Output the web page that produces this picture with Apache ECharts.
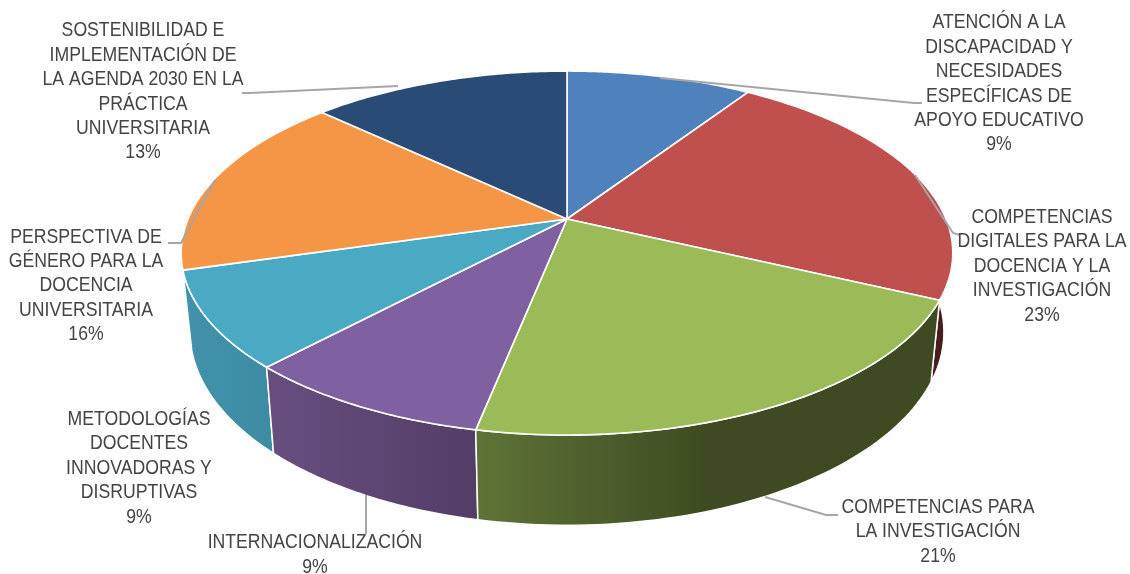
<!DOCTYPE html>
<html>
<head>
<meta charset="utf-8">
<style>html,body{margin:0;padding:0;background:#fff}#c{width:1130px;height:574px}</style>
<script src="https://cdn.jsdelivr.net/npm/echarts@6/dist/echarts.min.js"></script>
</head>
<body>
<div id="c"></div>
<script>
const categories = [
  "ATENCIÓN A LA\nDISCAPACIDAD Y\nNECESIDADES\nESPECÍFICAS DE\nAPOYO EDUCATIVO",
  "COMPETENCIAS\nDIGITALES PARA LA\nDOCENCIA Y LA\nINVESTIGACIÓN",
  "COMPETENCIAS PARA\nLA INVESTIGACIÓN",
  "INTERNACIONALIZACIÓN",
  "METODOLOGÍAS\nDOCENTES\nINNOVADORAS Y\nDISRUPTIVAS",
  "PERSPECTIVA DE\nGÉNERO PARA LA\nDOCENCIA\nUNIVERSITARIA",
  "SOSTENIBILIDAD E\nIMPLEMENTACIÓN DE\nLA AGENDA 2030 EN LA\nPRÁCTICA\nUNIVERSITARIA"
];
const values = [9.3, 22.7, 21.15, 8.85, 8.55, 16.45, 13];
const topColors = ['#4f81bd','#c0504d','#9bbb59','#7f60a0','#4aaac4','#f59646','#2a4b76'];
const sideColors = [
  ['#2f4d71','#2f4d71'],['#4a1c1b','#4a1c1b'],['#5f7336','#3e4b22'],
  ['#674e80','#523e66'],['#4292ab','#3d8ca4'],['#94592a','#94592a'],['#192d47','#192d47']
];
const sideSpan = [1, 1, 0.5, 1, 1, 1, 1];
// label layout: centre x, centre y of the whole block
const labelPos = [[999,84],[1042,266.5],[938,532],[315,555],[139,468.5],[86,286],[143,92]];
// leader lines
const leaders = [
  [[660,78],[914,103],[922,103]],
  [[915,175],[953,233],[960,235]],
  [[765,497],[826,515],[838,515]],
  [[366,495],[366,534]],
  [],
  [[215,180],[181,243],[168,243]],
  [[398,86],[250,93],[242,93]]
];

// perspective projection of the pie disc
const CX = 567, CY = 219, A = 379, B = 175.6, K = -0.187;
function project(t) {
  const u = Math.sin(t), v = -Math.cos(t), d = 1 + K * v;
  return [CX + A * u / d, CY + B * v / d];
}
function lower(p) {
  return [CX + (p[0] - CX) * 0.977, p[1] + 82 + (p[1] - 301) * 0.062];
}
const total = values.reduce((s, v) => s + v, 0);
const starts = [];
values.reduce((s, v, i) => { starts[i] = s; return s + v; }, 0);
function arc(i) {
  const a0 = starts[i] / total * 2 * Math.PI;
  const a1 = (starts[i] + values[i]) / total * 2 * Math.PI;
  const n = 60, pts = [];
  for (let j = 0; j <= n; j++) pts.push(project(a0 + (a1 - a0) * j / n));
  return pts;
}

const chart = echarts.init(document.getElementById('c'), null, {renderer: 'canvas'});
const seriesData = values.map((v, i) => ({name: categories[i].replace(/\n/g, ' '), value: v}));
// the sides are painted front-most last
const sideOrder = [0, 6, 5, 1, 4, 3, 2];

chart.setOption({
  animation: false,
  backgroundColor: '#fff',
  series: [
    {
      type: 'custom', coordinateSystem: 'none', silent: true, z: 1,
      data: sideOrder.map(i => ({name: seriesData[i].name, value: [i, values[i]]})),
      renderItem(params, api) {
        const i = api.value(0);
        const top = arc(i), bottom = top.map(lower).reverse();
        const xs = top.map(p => p[0]);
        const x0 = Math.min(...xs), x1 = Math.max(...xs);
        return {
          type: 'polygon',
          shape: {points: top.concat(bottom)},
          style: {
            fill: {
              type: 'linear', global: true, x: x0, y: 0, x2: x0 + (x1 - x0) * sideSpan[i], y2: 0,
              colorStops: [{offset: 0, color: sideColors[i][0]}, {offset: 1, color: sideColors[i][1]}]
            },
            stroke: '#fff', lineWidth: 1.5, lineJoin: 'round'
          }
        };
      }
    },
    {
      type: 'custom', coordinateSystem: 'none', silent: true, z: 2,
      data: seriesData,
      renderItem(params) {
        const i = params.dataIndex;
        return {
          type: 'polygon',
          shape: {points: [[CX, CY]].concat(arc(i))},
          style: {fill: topColors[i], stroke: '#fff', lineWidth: 1.6, lineJoin: 'round'}
        };
      }
    },
    {
      type: 'custom', coordinateSystem: 'none', silent: true, z: 3,
      data: seriesData,
      renderItem(params, api) {
        const i = params.dataIndex;
        return {
          type: 'group',
          children: [
            {
              type: 'polyline',
              shape: {points: leaders[i]},
              style: {fill: 'none', stroke: '#a6a6a6', lineWidth: 2}
            },
            {
              type: 'text',
              x: labelPos[i][0], y: labelPos[i][1], scaleX: 0.905,
              style: {
                text: categories[i] + '\n' + Math.round(api.value(0)) + '%',
                x: 0, y: 0,
                align: 'center', verticalAlign: 'middle',
                fontFamily: '"Liberation Sans",Arial,sans-serif',
                fontSize: 19.5, lineHeight: 24.4, fill: '#444444'
              }
            }
          ]
        };
      }
    }
  ]
});
</script>
</body>
</html>
